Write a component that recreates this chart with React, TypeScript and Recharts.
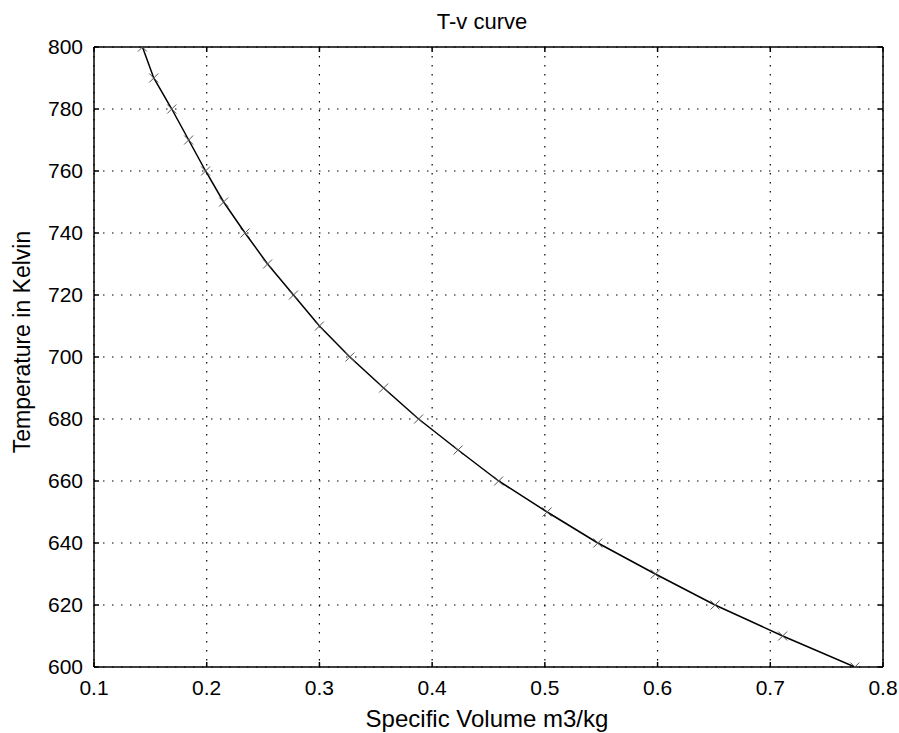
import React from "react"
import { LineChart, Line, XAxis, YAxis, CartesianGrid } from "recharts"

// T-v curve: temperature (K) and specific volume (m3/kg)
const temperatures = [
  800, 790, 780, 770, 760, 750, 740, 730, 720, 710, 700,
  690, 680, 670, 660, 650, 640, 630, 620, 610, 600,
]
const volumes = [
  0.143, 0.153, 0.169, 0.184, 0.199, 0.215, 0.234, 0.254, 0.277, 0.300, 0.327,
  0.357, 0.388, 0.423, 0.459, 0.502, 0.547, 0.598, 0.651, 0.711, 0.775,
]
const xTicks = [0.1, 0.2, 0.3, 0.4, 0.5, 0.6, 0.7, 0.8]
const yTicks = [600, 620, 640, 660, 680, 700, 720, 740, 760, 780, 800]

const data = volumes.map((v, i) => ({ v, t: temperatures[i] }))

const FONT = '"Liberation Sans", Arial, sans-serif'
const tickStyle = { fontSize: 21, fill: "#000", fontFamily: FONT }

function CrossDot(props: any) {
  const { cx, cy } = props
  if (cx == null || cy == null) return null
  const s = 4.5
  return (
    <g stroke="#555" strokeWidth={1}>
      <line x1={cx - s} y1={cy - s} x2={cx + s} y2={cy + s} />
      <line x1={cx - s} y1={cy + s} x2={cx + s} y2={cy - s} />
    </g>
  )
}

export default function App() {
  return (
    <div style={{ position: "absolute", left: 0, top: 0, width: 899, height: 733, background: "#fff", fontFamily: FONT }}>
      <LineChart
        width={899}
        height={733}
        data={data}
        margin={{ top: 46, right: 15, bottom: 0, left: 0 }}
      >
        <CartesianGrid stroke="#000" strokeDasharray="1.5 7.5" strokeWidth={1.2} />
        <XAxis
          dataKey="v"
          type="number"
          domain={[0.1, 0.8]}
          ticks={xTicks}
          height={66}
          stroke="#000"
          strokeWidth={1.5}
          tickSize={-5}
          tickMargin={18}
          tick={tickStyle}
          tickFormatter={(v: number) => String(v)}
          allowDataOverflow
        />
        <XAxis
          xAxisId="top"
          dataKey="v"
          orientation="top"
          type="number"
          domain={[0.1, 0.8]}
          ticks={xTicks}
          height={1}
          stroke="#000"
          strokeWidth={1.5}
          tickSize={-5}
          tickFormatter={() => ""}
          allowDataOverflow
        />
        <YAxis
          dataKey="t"
          type="number"
          domain={[600, 800]}
          ticks={yTicks}
          width={94}
          stroke="#000"
          strokeWidth={1.5}
          tickSize={-5}
          tickMargin={16}
          tick={tickStyle}
          allowDataOverflow
        />
        <YAxis
          yAxisId="right"
          dataKey="t"
          orientation="right"
          type="number"
          domain={[600, 800]}
          ticks={yTicks}
          width={1}
          stroke="#000"
          strokeWidth={1.5}
          tickSize={-5}
          tickFormatter={() => ""}
          allowDataOverflow
        />
        <Line
          type="linear"
          dataKey="t"
          stroke="#000"
          strokeWidth={1.5}
          dot={<CrossDot />}
          isAnimationActive={false}
        />
      </LineChart>
      <div style={{ position: "absolute", left: 482, top: 22, transform: "translate(-50%, -50%)", fontSize: 22, whiteSpace: "nowrap" }}>
        T-v curve
      </div>
      <div style={{ position: "absolute", left: 487, top: 719, transform: "translate(-50%, -50%)", fontSize: 24, whiteSpace: "nowrap" }}>
        Specific Volume m3/kg
      </div>
      <div style={{ position: "absolute", left: 22, top: 342, transform: "translate(-50%, -50%) rotate(-90deg)", fontSize: 23, whiteSpace: "nowrap" }}>
        Temperature in Kelvin
      </div>
    </div>
  )
}
